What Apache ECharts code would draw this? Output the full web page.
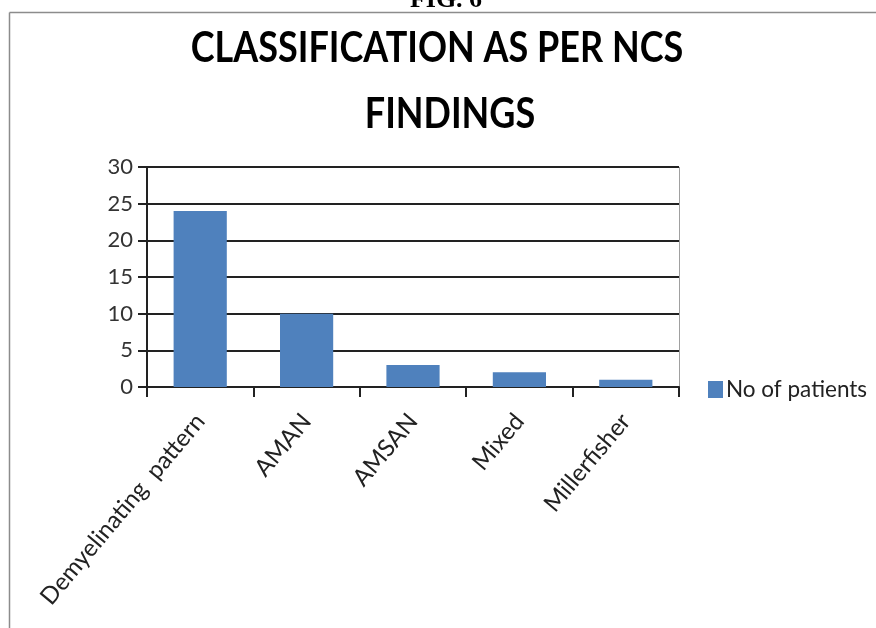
<!DOCTYPE html>
<html>
<head>
<meta charset="utf-8">
<script src="https://cdn.jsdelivr.net/npm/echarts@6/dist/echarts.min.js"></script>
<style>
  html, body { margin: 0; padding: 0; background: #fff; }
  #chart { width: 876px; height: 628px; }
</style>
</head>
<body>
<div id="chart"></div>
<script>
// NCS classification counts
const categories = ['Demyelinating  pattern', 'AMAN', 'AMSAN', 'Mixed', 'Millerfisher'];
const patients = [24, 10, 3, 2, 1];
const seriesName = 'No of patients';
const yTicks = { min: 0, max: 30, interval: 5 };

const FONT = 'Lato';
const chart = echarts.init(document.getElementById('chart'), null, { renderer: 'canvas' });

// title text drawn a little taller than wide
function titleLine(text, cx, top) {
  return {
    type: 'text', x: cx, y: top, scaleY: 1.17, originX: 0, originY: 0,
    style: { x: 0, y: 0, text: text, font: 'bold 36px ' + FONT, fill: '#000',
             textAlign: 'center', textVerticalAlign: 'top' }
  };
}

chart.setOption({
  backgroundColor: '#ffffff',
  animation: false,
  graphic: [
    // figure caption above the frame
    { type: 'text', x: 446, y: 13,
      style: { text: 'FIG. 6', font: 'bold 26px "Liberation Serif"', fill: '#000',
               textAlign: 'center', textVerticalAlign: 'bottom' } },
    // chart frame
    { type: 'line', shape: { x1: 9.5, y1: 12.5, x2: 876, y2: 12.5 },
      style: { stroke: '#8c8c8c', lineWidth: 1.5 } },
    { type: 'line', shape: { x1: 9.5, y1: 12.5, x2: 9.5, y2: 628 },
      style: { stroke: '#8c8c8c', lineWidth: 1.5 } },
    // plot-area right edge
    { type: 'line', shape: { x1: 679.5, y1: 167, x2: 679.5, y2: 387 },
      style: { stroke: '#a0a0a0', lineWidth: 1 } },
    titleLine('CLASSIFICATION AS PER NCS', 437, 27),
    titleLine('FINDINGS', 450, 93)
  ],
  grid: { left: 147, right: 197, top: 167, bottom: 241, containLabel: false },
  legend: {
    data: [seriesName],
    left: 703, top: 373,
    itemWidth: 15, itemHeight: 17, itemGap: 4,
    icon: 'rect',
    textStyle: { fontFamily: FONT, fontSize: 22.5, color: '#222', padding: [0, 0, 0, -2] }
  },
  xAxis: {
    type: 'category',
    data: categories,
    axisLine: { show: true, lineStyle: { color: '#222', width: 2 } },
    axisTick: { show: true, alignWithLabel: false, length: 10, lineStyle: { color: '#222', width: 2 } },
    axisLabel: { rotate: 50, fontFamily: FONT, fontSize: 24, color: '#222', margin: 30, interval: 0 }
  },
  yAxis: {
    type: 'value',
    min: yTicks.min, max: yTicks.max, interval: yTicks.interval,
    axisLine: { show: true, lineStyle: { color: '#222', width: 2 } },
    axisTick: { show: true, inside: false, length: 9, lineStyle: { color: '#222', width: 2 } },
    axisLabel: { fontFamily: FONT, fontSize: 22, color: '#333', margin: 14 },
    splitLine: { show: true, lineStyle: { color: '#222', width: 2 } }
  },
  series: [{
    name: seriesName,
    type: 'bar',
    data: patients,
    barWidth: '50%',
    itemStyle: { color: '#4F81BD' }
  }]
});
</script>
</body>
</html>
